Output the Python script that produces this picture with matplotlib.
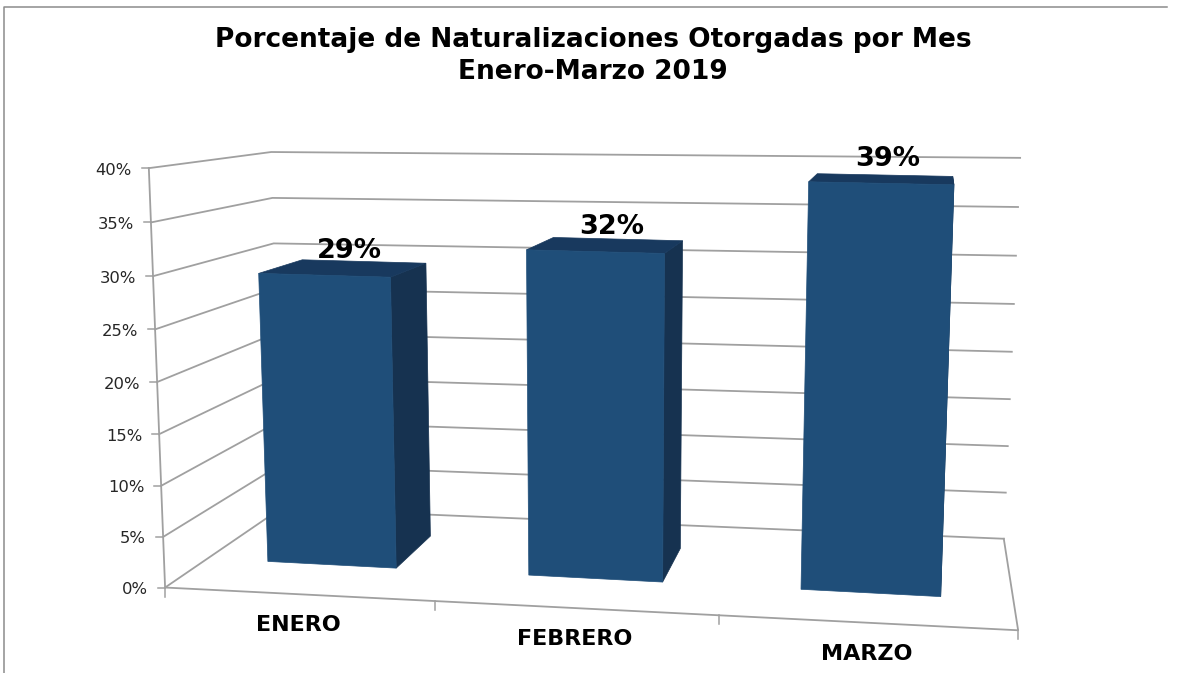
import numpy as np
import matplotlib
matplotlib.use('Agg')
import matplotlib.pyplot as plt

# Chart data
months = ['ENERO', 'FEBRERO', 'MARZO']
values = [29, 32, 39]
value_labels = ['29%', '32%', '39%']
y_ticks = [0, 5, 10, 15, 20, 25, 30, 35, 40]
title = 'Porcentaje de Naturalizaciones Otorgadas por Mes\nEnero-Marzo 2019'

# Bar footprint inside each category / depth of the box
bar_left = 0.26
bar_right = 0.757
depth_front = 0.30
depth_back = 0.68

# Calibration of the fake 3D box: (category, depth, percent) -> screen pixel
world_pts = [(0, 0, 0), (0, 0, 40), (0, 1, 0), (0, 1, 40),
             (3, 1, 0), (3, 1, 40), (3, 0, 0)]
screen_pts = [(166, 587), (148, 168), (280, 509), (272, 152),
              (1004, 538), (1020, 158), (1018, 631)]

# Second calibration for the bars, from their visible corners
bar_world = []
for i, val in enumerate(values):
    xa, xb = i + bar_left, i + bar_right
    bar_world += [(xa, depth_front, 0), (xb, depth_front, 0),
                  (xa, depth_front, val), (xb, depth_front, val),
                  (xb, depth_back, val), (xa, depth_back, val)]
bar_world += [(bar_right, depth_back, 0), (1 + bar_right, depth_back, 0)]
bar_screen = [(268, 563), (397, 569), (259, 273), (391, 276), (426, 262), (303, 259),
              (528, 575), (662, 582), (526, 250), (664, 253), (682, 240), (552, 238),
              (800, 589), (942, 595), (808, 183), (955, 185), (954, 177), (817, 175),
              (431, 537), (680, 548)]


def fit_camera(world, screen):
    A, b = [], []
    for (X, Y, Z), (u, v) in zip(world, screen):
        A.append([X, Y, Z, 1, 0, 0, 0, 0, -u * X, -u * Y, -u * Z])
        b.append(u)
        A.append([0, 0, 0, 0, X, Y, Z, 1, -v * X, -v * Y, -v * Z])
        b.append(v)
    p = np.linalg.lstsq(np.array(A, float), np.array(b, float), rcond=None)[0]
    return np.append(p, 1).reshape(3, 4)


P = fit_camera(world_pts, screen_pts)
P_bar = fit_camera(bar_world, bar_screen)


def project(X, Y, Z, cam=P):
    u, v, w = cam @ np.array([X, Y, Z, 1.0])
    return u / w, v / w


fig = plt.figure(figsize=(11.8, 6.73), dpi=100)
ax = fig.add_axes([0, 0, 1, 1])
ax.set_xlim(0, 1180)
ax.set_ylim(673, 0)
ax.axis('off')

grid_col = '#a0a0a0'
front_col = '#1f4e79'
top_col = '#18395e'
side_col = '#163250'

# Outer frame of the chart area
ax.plot([4, 4, 1167], [673, 7, 7], color='#8c8c8c', lw=1.1)

# Gridlines along side wall and back wall
for t in y_ticks:
    pts = [project(0, 0, t), project(0, 1, t), project(3, 1, t)]
    ax.plot(*zip(*pts), color=grid_col, lw=1.3, solid_joinstyle='miter')
    x0, y0 = pts[0]
    ax.plot([x0 - 7, x0], [y0, y0], color=grid_col, lw=1.1)
    ax.text(x0 - 17, y0 + 2, f'{t}%', ha='right', va='center',
            fontsize=11.8, color='#262626', family='DejaVu Sans')

# Axis lines
ax.plot(*zip(project(0, 0, 0), project(0, 0, 40)), color=grid_col, lw=1.3)
ax.plot(*zip(project(0, 0, 0), project(3, 0, 0), project(3, 1, 0)),
        color=grid_col, lw=1.3)
for i in range(4):
    x0, y0 = project(i, 0, 0)
    ax.plot([x0, x0], [y0, y0 + 9], color=grid_col, lw=1.1)

# Bars
for i, (month, val, lab) in enumerate(zip(months, values, value_labels)):
    xa, xb = i + bar_left, i + bar_right
    flb = project(xa, depth_front, 0, P_bar)
    frb = project(xb, depth_front, 0, P_bar)
    flt = project(xa, depth_front, val, P_bar)
    frt = project(xb, depth_front, val, P_bar)
    brb = project(xb, depth_back, 0, P_bar)
    brt = project(xb, depth_back, val, P_bar)
    blt = project(xa, depth_back, val, P_bar)
    ax.fill(*zip(frb, frt, brt, brb), color=side_col, lw=0.5, zorder=3)
    ax.fill(*zip(flt, frt, brt, blt), color=top_col, lw=0.5, zorder=3)
    ax.fill(*zip(flb, flt, frt, frb), color=front_col, lw=0.5, zorder=3)

    # value label above the bar top
    xc = i + (bar_left + bar_right) / 2
    cx, _ = project(xc, (depth_front + depth_back) / 2, val, P_bar)
    _, cy = project(xc, depth_front, val, P_bar)
    ax.text(cx + 5, cy - 24.5, lab, ha='center', va='center', fontsize=19.5,
            fontweight='bold', color='black', family='DejaVu Sans', zorder=4)

    # month label under the axis
    mx, my = project(i + 0.5, 0, 0)
    ax.text(mx, my + 31, month, ha='center', va='center', fontsize=16,
            fontweight='bold', color='black', family='DejaVu Sans')

ax.text(593, 56, title, ha='center', va='center', fontsize=19, fontweight='bold',
        color='black', family='DejaVu Sans', linespacing=1.3)

fig.savefig('out.png', dpi=100)
